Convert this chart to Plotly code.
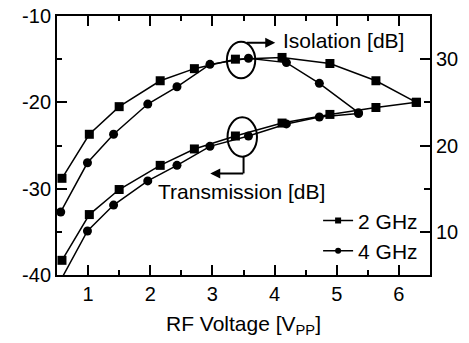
import plotly.graph_objects as go

# Data
v_2ghz = [0.58, 1.02, 1.50, 2.16, 2.71, 3.37, 4.12, 4.89, 5.63, 6.28]
v_4ghz = [0.56, 0.99, 1.41, 1.96, 2.43, 2.96, 3.58, 4.19, 4.72, 5.35]
iso_2ghz = [16.2, 21.3, 24.5, 27.5, 28.9, 30.0, 30.2, 29.5, 27.5, 25.0]
iso_4ghz = [12.3, 18.0, 21.3, 24.8, 26.8, 29.4, 30.1, 29.6, 27.2, 23.8]
tx_2ghz = [-38.3, -33.0, -30.1, -27.3, -25.4, -23.9, -22.4, -21.4, -20.6, -20.0]
tx_4ghz = [-40.6, -34.9, -31.9, -29.1, -27.3, -25.1, -23.9, -22.5, -21.7, -21.3]
series_names = ["2 GHz", "4 GHz"]
x_ticks = [1, 2, 3, 4, 5, 6]
left_ticks = [-40, -30, -20, -10]
left_labels = ["-40", "-30", "-20", "-10"]
right_ticks = [10, 20, 30]

FONT = "Liberation Sans, Arial, sans-serif"
FS = 20
FA = 21
line = dict(color="black", width=1.5)

fig = go.Figure()
fig.add_trace(go.Scatter(x=v_2ghz, y=iso_2ghz, yaxis="y2", mode="lines+markers", line=line,
                         marker=dict(symbol="square", size=9, color="black"), showlegend=False))
fig.add_trace(go.Scatter(x=v_4ghz, y=iso_4ghz, yaxis="y2", mode="lines+markers", line=line,
                         marker=dict(symbol="circle", size=9, color="black"), showlegend=False))
fig.add_trace(go.Scatter(x=v_2ghz, y=tx_2ghz, mode="lines+markers", line=line,
                         marker=dict(symbol="square", size=9, color="black"), showlegend=False))
fig.add_trace(go.Scatter(x=v_4ghz, y=tx_4ghz, mode="lines+markers", line=line,
                         marker=dict(symbol="circle", size=9, color="black"), showlegend=False))
# legend entries
fig.add_trace(go.Scatter(x=[None], y=[None], mode="lines+markers", name=series_names[0], line=line,
                         marker=dict(symbol="square", size=6, color="black")))
fig.add_trace(go.Scatter(x=[None], y=[None], mode="lines+markers", name=series_names[1], line=line,
                         marker=dict(symbol="circle", size=6, color="black")))

# Ellipses and arrows
fig.add_shape(type="circle", xref="x", yref="y", x0=3.233, x1=3.689, y0=-17.22, y1=-12.98,
              line=dict(color="black", width=2))
fig.add_shape(type="circle", xref="x", yref="y", x0=3.243, x1=3.717, y0=-26.30, y1=-21.74,
              line=dict(color="black", width=2))
fig.add_shape(type="line", xref="x", yref="y", x0=3.501, x1=3.501, y0=-26.30, y1=-28.23,
              line=dict(color="black", width=2))
fig.add_annotation(x=4.011, y=-13.09, ax=3.528, ay=-13.09, xref="x", yref="y", axref="x", ayref="y",
                   text="", showarrow=True, arrowhead=2, arrowsize=1, arrowwidth=2, arrowcolor="black")
fig.add_annotation(x=2.965, y=-28.23, ax=3.52, ay=-28.23, xref="x", yref="y", axref="x", ayref="y",
                   text="", showarrow=True, arrowhead=2, arrowsize=1, arrowwidth=2, arrowcolor="black")
fig.add_annotation(x=4.10, y=-12.85, xref="x", yref="y", text="Isolation [dB]", showarrow=False,
                   xanchor="left", yanchor="middle", font=dict(family=FONT, size=FA, color="black"))
fig.add_annotation(x=2.09, y=-30.28, xref="x", yref="y", text="Transmission [dB]", showarrow=False,
                   xanchor="left", yanchor="middle", font=dict(family=FONT, size=FA, color="black"))

fig.update_layout(
    width=469, height=343,
    margin=dict(l=57, r=39, t=16, b=68),
    paper_bgcolor="white", plot_bgcolor="white",
    font=dict(family=FONT, size=FS, color="black"),
    showlegend=True,
    legend=dict(x=0.70, y=0.288, xanchor="left", yanchor="top", bgcolor="rgba(0,0,0,0)",
                font=dict(family=FONT, size=FA), tracegroupgap=0, itemwidth=30),
    xaxis=dict(range=[0.5, 6.5], showline=True, linecolor="black", linewidth=2, mirror="ticks",
               ticks="inside", ticklen=10, tickwidth=1.5, tickcolor="black", tickvals=x_ticks,
               minor=dict(ticks="inside", ticklen=5, tickwidth=1.5, tickcolor="black", dtick=0.5),
               showgrid=False, zeroline=False, automargin=False,
               title=dict(text="RF Voltage [V<sub>PP</sub>]", font=dict(size=FA), standoff=12)),
    yaxis=dict(range=[-40, -10], showline=True, linecolor="black", linewidth=2,
               ticks="inside", ticklen=10, tickwidth=1.5, tickcolor="black",
               tickvals=left_ticks, ticktext=left_labels,
               minor=dict(ticks="inside", ticklen=5, tickwidth=1.5, tickcolor="black", dtick=5),
               showgrid=False, zeroline=False, automargin=False),
    yaxis2=dict(range=[5, 35], overlaying="y", side="right", showline=True, linecolor="black", linewidth=2,
                ticks="inside", ticklen=10, tickwidth=1.5, tickcolor="black", tickvals=right_ticks,
                minor=dict(ticks="inside", ticklen=6, tickwidth=1.5, tickcolor="black", tickvals=[15, 25]),
                showgrid=False, zeroline=False, automargin=False),
)

fig.write_html("out.html", config={"displayModeBar": False},
               post_script="document.body.style.margin='0';document.body.style.overflow='hidden';")
